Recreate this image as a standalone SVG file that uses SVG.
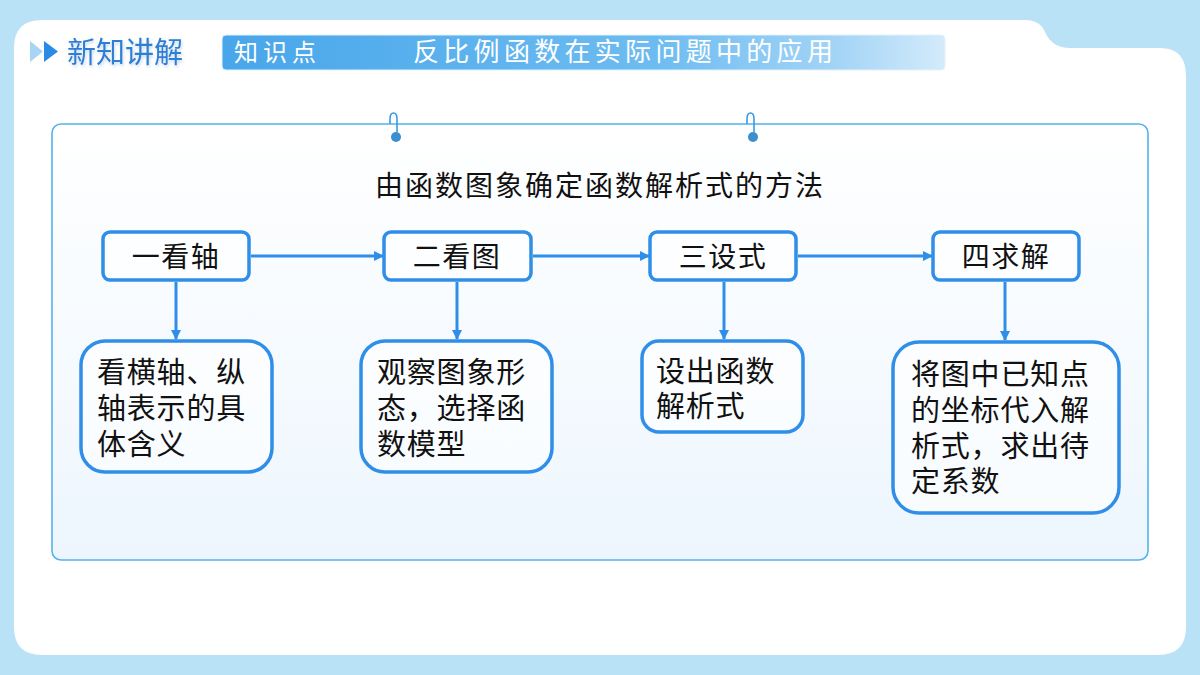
<svg xmlns="http://www.w3.org/2000/svg" width="1200" height="675" viewBox="0 0 1200 675">
  <defs>
    <linearGradient id="barGrad" x1="0" y1="0" x2="1" y2="0">
      <stop offset="0" stop-color="#48A6EA"/>
      <stop offset="0.6" stop-color="#6DBCF1"/>
      <stop offset="0.85" stop-color="#A3D4F6"/>
      <stop offset="1" stop-color="#D4EBFB"/>
    </linearGradient>
    <linearGradient id="boxGrad" x1="0" y1="0" x2="0" y2="1">
      <stop offset="0" stop-color="#FFFFFF"/>
      <stop offset="1" stop-color="#EDF6FE"/>
    </linearGradient>
    <marker id="arr" viewBox="0 0 10 10" refX="9" refY="5" markerWidth="10" markerHeight="10" markerUnits="userSpaceOnUse" orient="auto">
      <path d="M0,0 L10,5 L0,10 Z" fill="#2F8FE8"/>
    </marker>
    <filter id="sh" x="-10%" y="-10%" width="120%" height="130%">
      <feDropShadow dx="1" dy="2" stdDeviation="1.5" flood-color="#8FB8DD" flood-opacity="0.5"/>
    </filter>
  </defs>
  <style>
    .t { font-family: "Noto Sans CJK SC", "Noto Sans", sans-serif; fill: #111; }
    .m { font-family: "Liberation Sans", "Noto Sans CJK SC", sans-serif; fill: #111; }
    .node { fill: #FFFFFF; fill-opacity: 0.6; stroke: #2F8FE8; stroke-width: 3.5; }
    .conn { stroke: #2F8FE8; stroke-width: 3; fill: none; marker-end: url(#arr); }
    .hook { stroke: #3A9BE0; stroke-width: 1.6; fill: none; }
  </style>

  <!-- background -->
  <rect x="0" y="0" width="1200" height="675" fill="#BAE2F7"/>
  <path d="M14,48 Q14,20 42,20 L1025,20 Q1040,20 1045,32 Q1052,48 1070,48 L1160,48 Q1186,48 1186,76 L1186,627 Q1186,655 1158,655 L42,655 Q14,655 14,627 Z" fill="#FFFFFF"/>

  <!-- header -->
  <g id="header">
    <path d="M30,41 L43,51.5 L30,62 Z" fill="#A8D4F5"/>
    <path d="M44,41 L58,51.5 L44,62 Z" fill="#2A8BE6"/>
    <text x="67" y="63" class="t" font-size="29" style="fill:#2F7ED6" filter="url(#sh)">新知讲解</text>
  </g>
  <g id="titlebar">
    <rect x="222" y="35" width="723" height="35" rx="4" fill="url(#barGrad)" stroke="#E2F1FC" stroke-width="1"/>
    <text x="234" y="61" class="t" font-size="24" style="fill:#FFFFFF" letter-spacing="5">知识点</text>
    <text x="413" y="61" class="t" font-size="26" style="fill:#FFFFFF" letter-spacing="4.3">反比例函数在实际问题中的应用</text>
  </g>

  <!-- main frame -->
  <g id="frame">
    <rect x="52" y="124" width="1096" height="436" rx="9" fill="url(#boxGrad)" stroke="#55B2EE" stroke-width="1.6"/>
    <path class="hook" d="M390,124 L390,119 Q390,113 393.5,113 Q397,113 397,119 L397,132"/>
    <circle cx="396" cy="137" r="5" fill="#3A8FCF"/>
    <path class="hook" d="M747,124 L747,119 Q747,113 750.5,113 Q754,113 754,119 L754,132"/>
    <circle cx="753" cy="137" r="5" fill="#3A8FCF"/>
    <text x="600" y="196" class="t" font-size="28" text-anchor="middle" letter-spacing="2">由函数图象确定函数解析式的方法</text>
  </g>

  <!-- connectors -->
  <g id="connectors">
    <line class="conn" x1="251" y1="256" x2="383" y2="256"/>
    <line class="conn" x1="533" y1="256" x2="649" y2="256"/>
    <line class="conn" x1="798" y1="256" x2="932" y2="256"/>
    <line class="conn" x1="176" y1="282" x2="176" y2="339"/>
    <line class="conn" x1="457" y1="282" x2="457" y2="339"/>
    <line class="conn" x1="724" y1="282" x2="724" y2="339"/>
    <line class="conn" x1="1005" y1="282" x2="1005" y2="340"/>
  </g>

  <!-- top nodes -->
  <g id="n1">
    <rect class="node" x="103" y="232" width="146" height="48" rx="7"/>
    <text x="176" y="267" class="t" font-size="28" text-anchor="middle" letter-spacing="1.5">一看轴</text>
  </g>
  <g id="n2">
    <rect class="node" x="384" y="232" width="147" height="48" rx="7"/>
    <text x="457" y="267" class="t" font-size="28" text-anchor="middle" letter-spacing="1.5">二看图</text>
  </g>
  <g id="n3">
    <rect class="node" x="650" y="232" width="146" height="48" rx="7"/>
    <text x="723" y="267" class="t" font-size="28" text-anchor="middle" letter-spacing="1.5">三设式</text>
  </g>
  <g id="n4">
    <rect class="node" x="933" y="232" width="146" height="48" rx="7"/>
    <text x="1006" y="267" class="t" font-size="28" text-anchor="middle" letter-spacing="1.5">四求解</text>
  </g>

  <!-- bottom nodes -->
  <g id="d1">
    <rect class="node" x="81" y="341" width="191" height="131" rx="24"/>
    <text class="m" font-size="29" letter-spacing="0.8">
      <tspan x="97" y="383">看横轴、纵</tspan>
      <tspan x="97" y="419">轴表示的具</tspan>
      <tspan x="97" y="455">体含义</tspan>
    </text>
  </g>
  <g id="d2">
    <rect class="node" x="361" y="341" width="191" height="131" rx="24"/>
    <text class="m" font-size="29" letter-spacing="0.8">
      <tspan x="377" y="383">观察图象形</tspan>
      <tspan x="377" y="419">态，选择函</tspan>
      <tspan x="377" y="455">数模型</tspan>
    </text>
  </g>
  <g id="d3">
    <rect class="node" x="642" y="341" width="161" height="91" rx="17"/>
    <text class="m" font-size="29" letter-spacing="0.8">
      <tspan x="656" y="382">设出函数</tspan>
      <tspan x="656" y="417">解析式</tspan>
    </text>
  </g>
  <g id="d4">
    <rect class="node" x="893" y="342" width="226" height="171" rx="26"/>
    <text class="m" font-size="29" letter-spacing="0.8">
      <tspan x="911" y="385">将图中已知点</tspan>
      <tspan x="911" y="421">的坐标代入解</tspan>
      <tspan x="911" y="457">析式，求出待</tspan>
      <tspan x="911" y="492">定系数</tspan>
    </text>
  </g>
</svg>
